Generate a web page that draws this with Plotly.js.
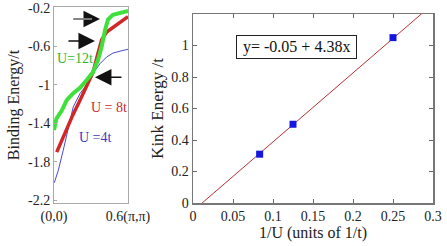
<!DOCTYPE html>
<html><head><meta charset="utf-8">
<script src="https://cdn.plot.ly/plotly-3.0.1.min.js"></script>
<style>html,body{margin:0;padding:0;background:#fff}#c{width:447px;height:246px}</style>
</head><body><div id="c"></div>
<script>
// Left panel: binding energy dispersions (k from (0,0) toward (pi,pi), in units of (pi,pi))
const kGreen = [0, 0.02, 0.062, 0.103, 0.154, 0.211, 0.265, 0.316, 0.357, 0.387, 0.414, 0.438, 0.478, 0.535, 0.6];
const eGreen = [-1.47, -1.35, -1.27, -1.16, -1.09, -1.03, -0.95, -0.87, -0.74, -0.60, -0.43, -0.32, -0.27, -0.25, -0.23];
const kRed = [0.022, 0.062, 0.103, 0.154, 0.211, 0.265, 0.316, 0.357, 0.387, 0.427, 0.478, 0.535, 0.6];
const eRed = [-1.70, -1.575, -1.45, -1.31, -1.16, -1.02, -0.87, -0.67, -0.53, -0.45, -0.40, -0.35, -0.29];
const kBlue = [0.002, 0.035, 0.075, 0.116, 0.156, 0.211, 0.265, 0.316, 0.373, 0.427, 0.478, 0.535, 0.6];
const eBlue = [-2.02, -1.89, -1.68, -1.44, -1.23, -1.09, -1.00, -0.88, -0.78, -0.71, -0.67, -0.65, -0.63];
const leftYTicks = [-2.2, -1.8, -1.4, -1, -0.6, -0.2];
const leftYLabels = ['-2.2', '-1.8', '-1.4', '-1', '-0.6', '-0.2'];
const leftXTicks = [0, 0.6];
const leftXLabels = ['(0,0)', '0.6(\u03c0,\u03c0)'];

// Right panel: kink energy vs 1/U
const invU = [0.0833, 0.125, 0.25];
const kinkE = [0.31, 0.50, 1.05];
const fitIntercept = -0.05;
const fitSlope = 4.38;
const fitX = [0, 0.3];
const fitY = fitX.map(x => fitIntercept + fitSlope * x);
const rightXTicks = [0, 0.05, 0.1, 0.15, 0.2, 0.25, 0.3];
const rightXLabels = ['0', '0.05', '0.1', '0.15', '0.2', '0.25', '0.3'];
const rightYTicks = [0, 0.2, 0.4, 0.6, 0.8, 1];
const rightYLabels = ['0', '0.2', '0.4', '0.6', '0.8', '1'];

const serif = '"Liberation Serif", "Times New Roman", Times, serif';

const traces = [
  {x: kBlue, y: eBlue, mode: 'lines', line: {color: '#4a4ac8', width: 1}, xaxis: 'x', yaxis: 'y', hoverinfo: 'skip'},
  {x: kRed, y: eRed, mode: 'lines', line: {color: '#d02828', width: 3.5}, xaxis: 'x', yaxis: 'y', hoverinfo: 'skip'},
  {x: kGreen, y: eGreen, mode: 'lines', line: {color: '#3ee03a', width: 4}, xaxis: 'x', yaxis: 'y', hoverinfo: 'skip'},
  {x: fitX, y: fitY, mode: 'lines', line: {color: '#b83030', width: 1}, xaxis: 'x2', yaxis: 'y2', hoverinfo: 'skip'},
  {x: invU, y: kinkE, mode: 'markers', marker: {symbol: 'square', size: 7, color: '#1515e0'}, xaxis: 'x2', yaxis: 'y2', hoverinfo: 'skip'}
];

const tickFont = {family: serif, size: 14, color: '#222'};
const arrowTips = {x: [0.373, 0.332, 0.332], y: [-0.315, -0.544, -0.92]};

const layout = {
  width: 447, height: 246,
  margin: {l: 0, r: 0, t: 0, b: 0},
  paper_bgcolor: '#fff', plot_bgcolor: '#fff',
  showlegend: false,
  font: {family: serif, size: 14, color: '#222'},
  xaxis: {
    domain: [54/447, 128/447], range: [0, 0.6],
    tickvals: leftXTicks, ticktext: leftXLabels, ticks: '', tickfont: tickFont,
    showline: true, mirror: true, linecolor: '#aaa', linewidth: 1, showgrid: false, zeroline: false,
    anchor: 'y'
  },
  yaxis: {
    domain: [1 - 203/246, 1 - 7/246], range: [-2.23, -0.19],
    tickvals: leftYTicks, ticktext: leftYLabels,
    ticks: 'inside', ticklen: 3, tickcolor: '#aaa', tickfont: tickFont,
    showline: true, mirror: true, linecolor: '#aaa', linewidth: 1, showgrid: false, zeroline: false,
    title: {text: 'Binding Energy/t', font: {family: serif, size: 16, color: '#222'}, standoff: 4},
    anchor: 'x'
  },
  xaxis2: {
    domain: [193/447, 433/447], range: [0, 0.3],
    tickvals: rightXTicks, ticktext: rightXLabels,
    ticks: 'inside', ticklen: 4, tickcolor: '#666', tickfont: tickFont,
    showline: true, mirror: 'ticks', linecolor: '#777', linewidth: 1.5, showgrid: false, zeroline: false,
    title: {text: '1/U (units of 1/t)', font: {family: serif, size: 16, color: '#222'}, standoff: 1},
    anchor: 'y2'
  },
  yaxis2: {
    domain: [1 - 203/246, 1 - 14/246], range: [0, 1.2],
    tickvals: rightYTicks, ticktext: rightYLabels,
    ticks: 'inside', ticklen: 4, tickcolor: '#666', tickfont: tickFont,
    showline: true, mirror: 'ticks', linecolor: '#777', linewidth: 1.5, showgrid: false, zeroline: false,
    title: {text: 'Kink Energy /t', font: {family: serif, size: 17, color: '#222'}, standoff: 3},
    anchor: 'x2'
  },
  annotations: [
    {xref: 'x', yref: 'y', x: 0.005, y: -0.73, text: 'U=12t', showarrow: false, xanchor: 'left', font: {family: serif, size: 14, color: '#2eb82e'}},
    {xref: 'x', yref: 'y', x: 0.28, y: -1.24, text: 'U = 8t', showarrow: false, xanchor: 'left', font: {family: serif, size: 14, color: '#cc2a2a'}},
    {xref: 'x', yref: 'y', x: 0.19, y: -1.55, text: 'U =4t', showarrow: false, xanchor: 'left', font: {family: serif, size: 14, color: '#3a3ac0'}},
    {xref: 'x', yref: 'y', x: arrowTips.x[0], y: arrowTips.y[0], ax: -28, ay: 0, text: '', showarrow: true, arrowhead: 2, arrowsize: 2.2, arrowwidth: 1.5, arrowcolor: '#111', standoff: 0},
    {xref: 'x', yref: 'y', x: arrowTips.x[1], y: arrowTips.y[1], ax: -28, ay: 0, text: '', showarrow: true, arrowhead: 2, arrowsize: 2.2, arrowwidth: 1.5, arrowcolor: '#111', standoff: 0},
    {xref: 'x', yref: 'y', x: arrowTips.x[2], y: arrowTips.y[2], ax: 28, ay: 0, text: '', showarrow: true, arrowhead: 2, arrowsize: 2.2, arrowwidth: 1.5, arrowcolor: '#111', standoff: 0},
    {xref: 'x', yref: 'y', x: arrowTips.x[0], y: arrowTips.y[0], ax: -28, ay: 0, text: '', showarrow: true, arrowhead: 0, arrowwidth: 1.6, arrowcolor: '#9a9a9a', standoff: 8},
    {xref: 'x2', yref: 'y2', x: 0.1288, y: 0.99, text: '\u00a0y= -0.05 + 4.38x\u00a0', showarrow: false, xanchor: 'center',
     font: {family: serif, size: 16, color: '#111'}, bordercolor: '#222', borderwidth: 1, borderpad: 2, bgcolor: '#fff'}
  ]
};

Plotly.newPlot('c', traces, layout, {staticPlot: true, displayModeBar: false});
</script></body></html>
